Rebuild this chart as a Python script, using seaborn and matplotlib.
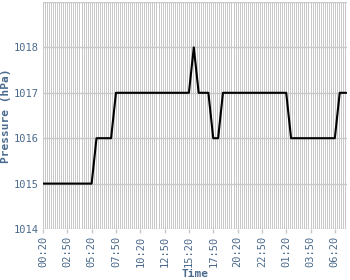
import matplotlib
matplotlib.use("Agg")
import matplotlib.pyplot as plt
import seaborn as sns
import pandas as pd

# Data: breakpoints of the pressure trace (time, hPa)
times = ["2024-01-01 00:20", "2024-01-01 05:20", "2024-01-01 05:50", "2024-01-01 07:20",
         "2024-01-01 07:50", "2024-01-01 15:20", "2024-01-01 15:50", "2024-01-01 16:20",
         "2024-01-01 17:20", "2024-01-01 17:50", "2024-01-01 18:20", "2024-01-01 18:50",
         "2024-01-02 01:20", "2024-01-02 01:50", "2024-01-02 06:20", "2024-01-02 06:50",
         "2024-01-02 07:30"]
pressure = [1015, 1015, 1016, 1016,
            1017, 1017, 1018, 1017,
            1017, 1016, 1016, 1017,
            1017, 1016, 1016, 1017,
            1017]
tick_labels = ["00:20", "02:50", "05:20", "07:50", "10:20", "12:50", "15:20",
               "17:50", "20:20", "22:50", "01:20", "03:50", "06:20"]
y_ticks = [1014, 1015, 1016, 1017, 1018]

df = pd.DataFrame({"Time": pd.to_datetime(times), "Pressure": pressure})

sns.set_theme(style="white")
plt.rcParams["font.family"] = ["DejaVu Sans Mono"]

fig = plt.figure(figsize=(3.5, 2.8), dpi=100)
ax = fig.add_axes([43/350, 1 - 229/280, (347-43)/350, (229-2)/280])

start = pd.Timestamp("2024-01-01 00:20")
end = pd.Timestamp("2024-01-02 07:35")
major = pd.date_range(start, periods=len(tick_labels), freq="150min")
minor = pd.date_range(start, end, freq="750s")

grid_c = "#c8c8c8"
for t in minor:
    ax.axvline(t, color=grid_c, lw=0.72, zorder=0, antialiased=False)
for y in y_ticks + [1019]:
    ax.axhline(y, color=grid_c, lw=1.0, zorder=1)

sns.lineplot(data=df, x="Time", y="Pressure", ax=ax, color="black", lw=1.5, zorder=3)

ax.set_xlim(start, end)
ax.set_ylim(1014, 1019)
ax.set_xticks(major)
ax.set_xticklabels(tick_labels, rotation=90)
ax.set_yticks(y_ticks)
ax.set_yticklabels([str(v) for v in y_ticks])

lab_c = "#4a6a8c"
ax.tick_params(axis="x", colors=lab_c, labelsize=7.5, length=3, width=1, color=grid_c, pad=2, bottom=True)
ax.tick_params(axis="y", colors=lab_c, labelsize=7.5, length=0, pad=3, left=False)
for s in ax.spines.values():
    s.set_visible(False)

ax.set_xlabel("Time", color=lab_c, fontsize=8, fontweight="bold", labelpad=1)
ax.set_ylabel("Pressure (hPa)", color=lab_c, fontsize=8, fontweight="bold", labelpad=2)

fig.savefig("out.png", dpi=100, facecolor="white")
